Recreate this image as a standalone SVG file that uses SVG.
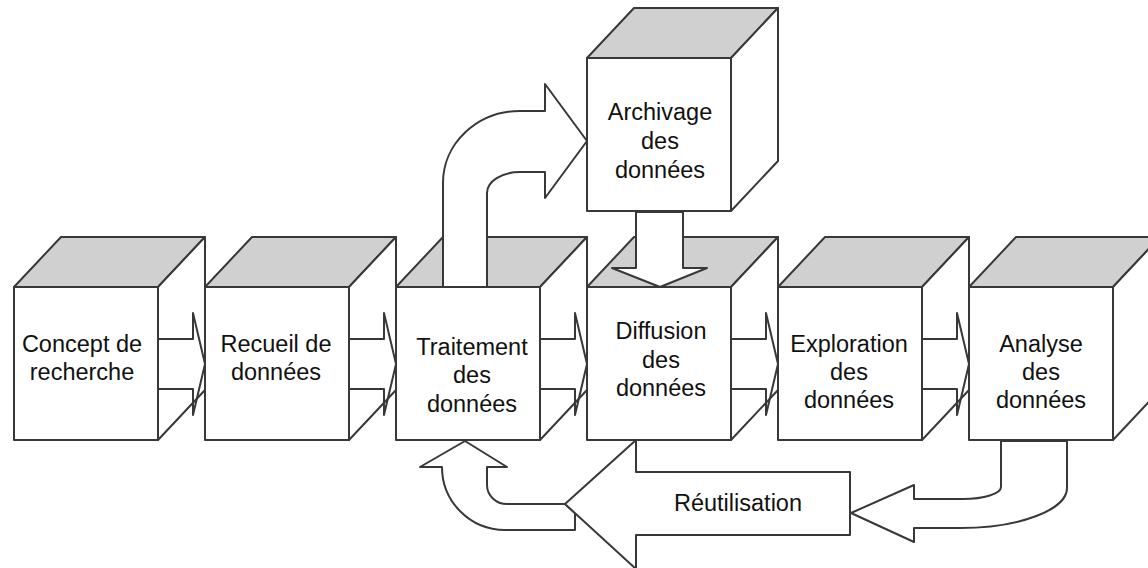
<svg xmlns="http://www.w3.org/2000/svg" width="1148" height="568" viewBox="0 0 1148 568">
<style>
.top{fill:#d0d0d0;stroke:#383838;stroke-width:2;stroke-linejoin:round}
.face{fill:#fff;stroke:#383838;stroke-width:2;stroke-linejoin:round}
.flow{fill:none;stroke:#383838;stroke-width:2;stroke-linejoin:round}
.big{fill:#fff;stroke:#383838;stroke-width:2;stroke-linejoin:round}
.lbl{font-family:"Liberation Sans",Arial,sans-serif;font-size:23.5px;fill:#111;text-anchor:middle}
</style>
<defs>
<g id="cube">
<path class="top" d="M0,0 L47,-50 L191,-50 L144,0 Z"/>
<path class="face" d="M144,0 L191,-50 L191,103 L144,153 Z"/>
<rect class="face" x="0" y="0" width="144" height="153"/>
</g>
</defs>
<rect width="1148" height="568" fill="#fff"/>
<g id="archivage">
<use href="#cube" x="587" y="58"/>
<text class="lbl" x="660" y="120">Archivage</text>
<text class="lbl" x="660" y="149">des</text>
<text class="lbl" x="660" y="178">données</text>
</g>
<g id="concept">
<use href="#cube" x="14" y="287"/>
<text class="lbl" x="82" y="352">Concept de</text>
<text class="lbl" x="82" y="380">recherche</text>
</g>
<g id="recueil">
<use href="#cube" x="205" y="287"/>
<text class="lbl" x="276" y="352">Recueil de</text>
<text class="lbl" x="276" y="380">données</text>
</g>
<g id="traitement">
<use href="#cube" x="396" y="287"/>
<text class="lbl" x="472" y="355">Traitement</text>
<text class="lbl" x="472" y="383">des</text>
<text class="lbl" x="472" y="412">données</text>
</g>
<g id="diffusion">
<use href="#cube" x="587" y="287"/>
<text class="lbl" x="661" y="339">Diffusion</text>
<text class="lbl" x="661" y="368">des</text>
<text class="lbl" x="661" y="396">données</text>
</g>
<g id="exploration">
<use href="#cube" x="778" y="287"/>
<text class="lbl" x="849" y="352">Exploration</text>
<text class="lbl" x="849" y="380">des</text>
<text class="lbl" x="849" y="408">données</text>
</g>
<g id="analyse">
<use href="#cube" x="969" y="287"/>
<text class="lbl" x="1041" y="352">Analyse</text>
<text class="lbl" x="1041" y="380">des</text>
<text class="lbl" x="1041" y="408">données</text>
</g>
<g id="connectors">
<polyline class="flow" points="158,339 193,339 193,313 205,364 193,415 193,389 158,389"/>
<polyline class="flow" points="349,339 384,339 384,313 396,364 384,415 384,389 349,389"/>
<polyline class="flow" points="540,339 575,339 575,313 587,364 575,415 575,389 540,389"/>
<polyline class="flow" points="731,339 766,339 766,313 778,364 766,415 766,389 731,389"/>
<polyline class="flow" points="922,339 957,339 957,313 969,364 957,415 957,389 922,389"/>
<path class="big" d="M443,287 L443,183 A77,72 0 0 1 520,111 L545,111 L545,84 L587,141 L545,198 L545,172 L520,172 A33,21 0 0 0 487,193 L487,287 Z"/>
<polygon class="big" points="636,212 683,212 683,268 707,268 660,287 612,268 636,268"/>
<path class="big" d="M575,513 L575,530 L505,530 A63,63 0 0 1 442,467 L420,467 L465,441 L507,467 L487,467 L487,485 A20,19 0 0 0 507,504 L565,504 Z"/>
<polygon class="big" points="636,440 636,472 850,472 850,535 636,535 636,569 565,504"/>
<path class="big" d="M1001,441 L1001,487 A38,12 0 0 1 963,499 L914,499 L914,485 L851,513 L914,542 L914,528 L960,528 A107,40 0 0 0 1067,488 L1067,441 Z"/>
<text class="lbl" x="738" y="511">Réutilisation</text>
</g>
</svg>
